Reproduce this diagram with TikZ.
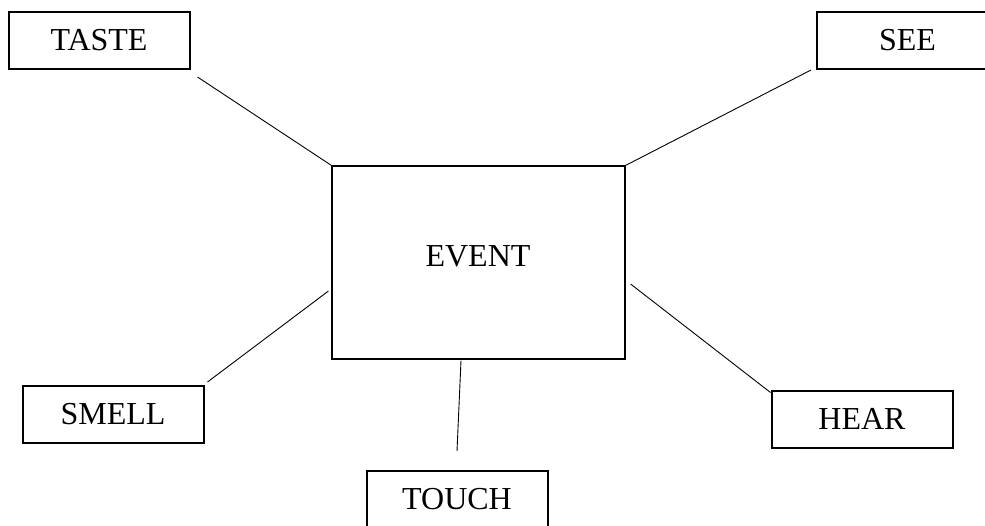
\documentclass[tikz,border=0pt]{standalone}
\usepackage{fontspec}
\setmainfont{Liberation Serif}
\usepackage{tikz}

\begin{document}
\begin{tikzpicture}[x=1pt,y=-1pt,
  sense/.style={draw,line width=2pt,inner sep=0pt,minimum width=181pt,minimum height=57pt,font=\fontsize{32}{38}\selectfont},
  link/.style={line width=0.9pt}]
\useasboundingbox (0,0) rectangle (985,525);
\node [draw,line width=1.1pt,minimum width=293pt,minimum height=193pt,inner sep=0pt] (event) at (478.5,262.5) {};
\node [font=\fontsize{32}{38}\selectfont] (eventtext) at (478,256) {EVENT};
\node [sense] (taste) at (99,40.5) {TASTE};
\node [sense] (see) at (907.5,40.5) {SEE};
\node [sense] (smell) at (113,414.5) {SMELL};
\node [sense] (touch) at (457,499.5) {TOUCH};
\node [sense] (hear) at (862,419) {HEAR};
\draw [link] ([shift={(7,7)}]taste.south east) -- (event.north west);
\draw [link] ([shift={(-5,0)}]see.south west) -- (event.north east);
\draw [link] ([shift={(3,-3)}]smell.north east) -- ([shift={(-3,28.5)}]event.west);
\draw [link] ([shift={(-17.5,1)}]event.south) -- ([shift={(0,-19)}]touch.north);
\draw [link] ([shift={(5,21.5)}]event.east) -- ([shift={(0,3)}]hear.north west);
\end{tikzpicture}
\end{document}
